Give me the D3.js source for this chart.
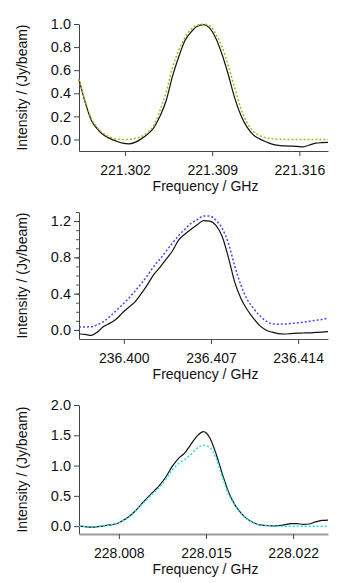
<!DOCTYPE html>
<html>
<head>
<meta charset="utf-8">
<script src="https://cdn.jsdelivr.net/npm/d3@7"></script>
<style>
  body { margin: 0; background: #fff; }
  svg text { font-family: 'Liberation Sans', Arial, sans-serif; fill: #111; }
</style>
</head>
<body>
<div id="chart"></div>
<script>
// Panel 1 : 221.309 GHz line
const freqStart1 = 221.2983
const obs1 = [0.52, 0.32, 0.165, 0.088, 0.036, 0.007, -0.015, -0.032, -0.038, -0.025,
  0.005, 0.045, 0.10, 0.20, 0.335, 0.544, 0.712, 0.855, 0.93, 0.98,
  0.995, 0.965, 0.875, 0.734, 0.558, 0.362, 0.21, 0.107, 0.04, 0.005,
  -0.02, -0.04, -0.052, -0.056, -0.058, -0.06, -0.064, -0.048, -0.032, -0.028, -0.026]
const model1 = [0.52, 0.33, 0.18, 0.10, 0.05, 0.02, 0.005, 0.0, 0.002, 0.01,
  0.025, 0.06, 0.12, 0.25, 0.41, 0.62, 0.77, 0.88, 0.955, 0.99,
  0.998, 0.985, 0.91, 0.80, 0.635, 0.45, 0.27, 0.145, 0.07, 0.035,
  0.015, 0.005, 0.002, 0, 0, 0, 0, 0, 0, 0, 0]
const yTicks1 = [0, 0.2, 0.4, 0.6, 0.8, 1.0]
const xTicks1 = [221.302, 221.309, 221.316]

// Panel 2 : 236.407 GHz line
const freqStart2 = 236.3964
const obs2 = [-0.042, -0.05, -0.06, -0.02, 0.04, 0.075, 0.12, 0.19, 0.25, 0.31,
  0.40, 0.50, 0.61, 0.69, 0.78, 0.87, 0.99, 1.055, 1.11, 1.16,
  1.205, 1.20, 1.153, 1.03, 0.80, 0.53, 0.35, 0.225, 0.13, 0.05,
  0.0, -0.025, -0.04, -0.045, -0.04, -0.036, -0.034, -0.032, -0.028, -0.024, -0.018]
const model2 = [0.03, 0.033, 0.035, 0.06, 0.095, 0.15, 0.215, 0.28, 0.35, 0.43,
  0.51, 0.60, 0.70, 0.78, 0.87, 0.955, 1.04, 1.11, 1.175, 1.215,
  1.255, 1.255, 1.21, 1.12, 0.955, 0.71, 0.495, 0.34, 0.24, 0.16,
  0.10, 0.067, 0.063, 0.065, 0.07, 0.077, 0.085, 0.095, 0.105, 0.115, 0.13]
const yTicks2 = [0, 0.4, 0.8, 1.2]
const xTicks2 = [236.400, 236.407, 236.414]

// Panel 3 : 228.015 GHz line
const freqStart3 = 228.0048
const obs3 = [0.0, -0.01, -0.017, -0.008, 0.005, 0.02, 0.04, 0.09, 0.155, 0.245,
  0.36, 0.47, 0.575, 0.68, 0.82, 0.99, 1.12, 1.21, 1.355, 1.49,
  1.56, 1.46, 1.20, 0.87, 0.57, 0.36, 0.22, 0.12, 0.06, 0.02,
  0.01, 0.005, 0.008, 0.02, 0.04, 0.04, 0.03, 0.035, 0.07, 0.095, 0.10]
const model3 = [0.0, -0.01, -0.015, -0.008, 0.005, 0.02, 0.04, 0.085, 0.15, 0.24,
  0.345, 0.45, 0.55, 0.65, 0.78, 0.93, 1.03, 1.10, 1.19, 1.29,
  1.335, 1.30, 1.12, 0.82, 0.53, 0.35, 0.21, 0.115, 0.055, 0.02,
  0.008, 0.003, 0, 0, 0, 0, 0, 0, 0, 0, 0]
const yTicks3 = [0, 0.5, 1.0, 1.5, 2.0]
const xTicks3 = [228.008, 228.015, 228.022]

const STEP = 0.0005 // channel width, GHz
const W = 351
const H = 583
const LEFT = 79
const RIGHT = 328
const FONT = 14

const panels = [
  { start: freqStart1, obs: obs1, model: model1, yTicks: yTicks1, xTicks: xTicks1,
    yDomain: [-0.1, 1.0], top: 24, bottom: 151, color: '#b0b022', minor: null, axisColor: '#444', axisWidth: 1 },
  { start: freqStart2, obs: obs2, model: model2, yTicks: yTicks2, xTicks: xTicks2,
    yDomain: [-0.1, 1.3], top: 212, bottom: 339, color: '#5a3cff', minor: 0.1, axisColor: '#555', axisWidth: 1 },
  { start: freqStart3, obs: obs3, model: model3, yTicks: yTicks3, xTicks: xTicks3,
    yDomain: [-0.13, 2.0], top: 405, bottom: 534, color: '#22e0e8', minor: null, axisColor: '#999', axisWidth: 2 }
]

const svg = d3.select('#chart').append('svg')
  .attr('width', W)
  .attr('height', H)

panels.forEach(p => {
  const n = p.obs.length
  const x = d3.scaleLinear()
    .domain([p.start, p.start + STEP * (n - 1)])
    .range([LEFT, RIGHT])
  const y = d3.scaleLinear()
    .domain(p.yDomain)
    .range([p.bottom, p.top])

  const g = svg.append('g')

  // minor y ticks
  if (p.minor) {
    const minorTicks = d3.range(0, p.yDomain[1] + 1e-9, p.minor)
    g.append('g')
      .attr('transform', `translate(${LEFT},0)`)
      .call(d3.axisLeft(y).tickValues(minorTicks).tickSize(3).tickFormat(''))
      .call(a => a.select('.domain').remove())
      .call(a => a.selectAll('line').attr('stroke', '#555'))
  }

  // y axis
  g.append('g')
    .attr('transform', `translate(${LEFT},0)`)
    .call(d3.axisLeft(y).tickValues(p.yTicks).tickSize(5).tickPadding(3).tickFormat(d3.format('.1f')).tickSizeOuter(0))
    .call(a => a.select('.domain').attr('stroke', '#444'))
    .call(a => a.selectAll('line').attr('stroke', '#444'))
    .call(a => a.selectAll('text').attr('font-size', 14.5).attr('fill', '#111'))

  // x axis
  g.append('g')
    .attr('transform', `translate(0,${p.bottom})`)
    .call(d3.axisBottom(x).tickValues(p.xTicks).tickSize(5).tickPadding(9).tickFormat(d3.format('.3f')).tickSizeOuter(0))
    .call(a => a.select('.domain').attr('stroke', p.axisColor).attr('stroke-width', p.axisWidth))
    .call(a => a.selectAll('line').attr('stroke', '#444'))
    .call(a => a.selectAll('text').attr('font-size', FONT).attr('fill', '#111'))

  // axis titles
  g.append('text')
    .attr('x', (LEFT + RIGHT) / 2 + 2)
    .attr('y', p.bottom + 40)
    .attr('text-anchor', 'middle')
    .attr('font-size', FONT)
    .text('Frequency / GHz')

  g.append('text')
    .attr('transform', `translate(27,${(p.top + p.bottom) / 2}) rotate(-90)`)
    .attr('text-anchor', 'middle')
    .attr('font-size', FONT)
    .text('Intensity / (Jy/beam)')

  const line = d3.line()
    .x((d, i) => x(p.start + STEP * i))
    .y(d => y(d))
    .curve(d3.curveMonotoneX)

  g.append('path')
    .datum(p.obs)
    .attr('d', line)
    .attr('fill', 'none')
    .attr('stroke', '#111')
    .attr('stroke-width', 1.2)

  g.append('path')
    .datum(p.model)
    .attr('d', line)
    .attr('fill', 'none')
    .attr('stroke', p.color)
    .attr('stroke-width', 1.5)
    .attr('stroke-dasharray', '2,2')
})
</script>
</body>
</html>
